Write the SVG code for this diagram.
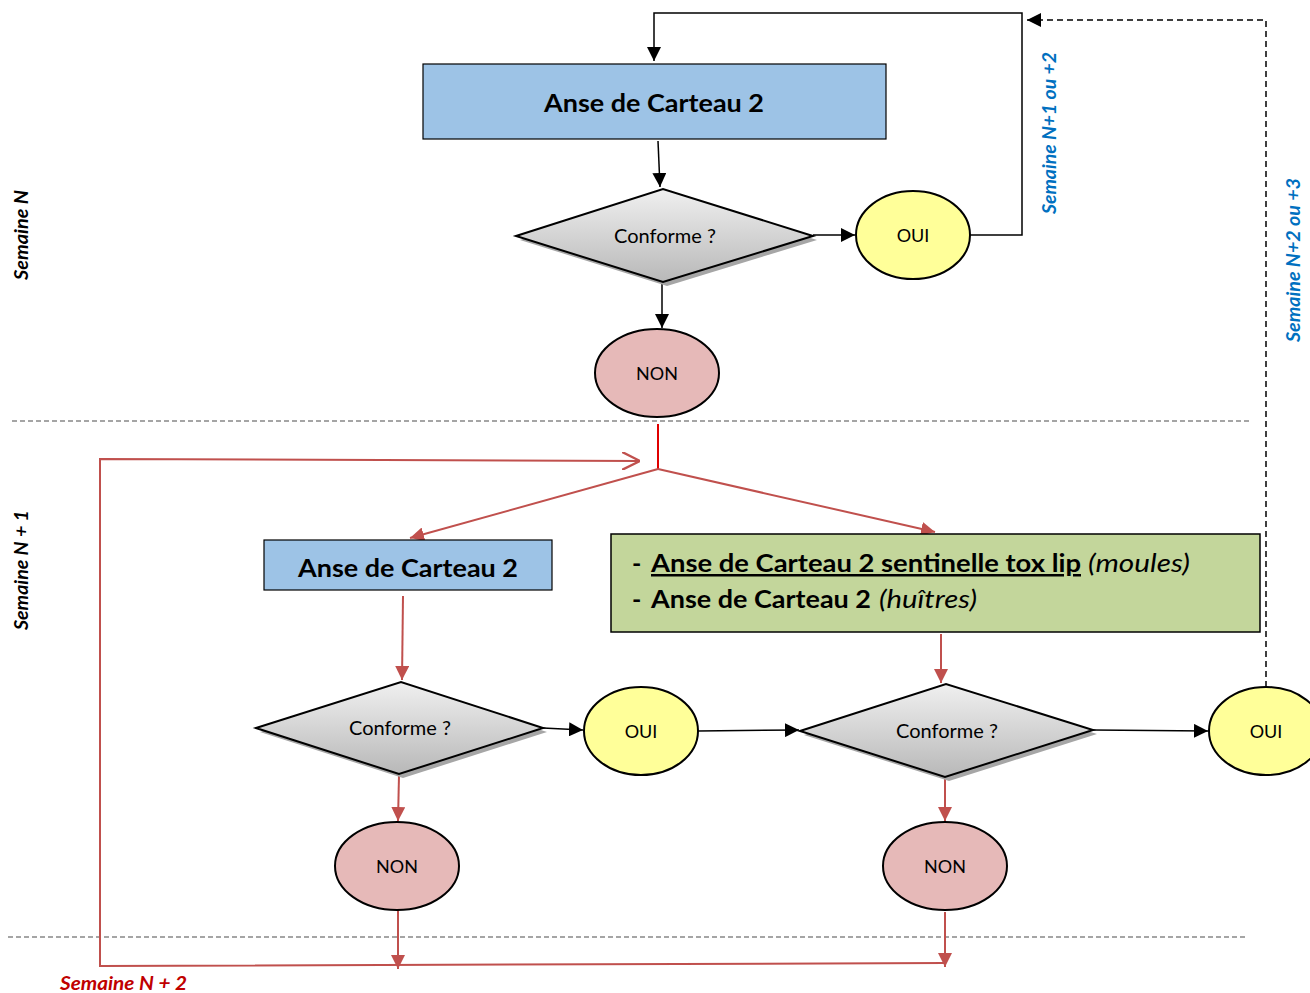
<svg xmlns="http://www.w3.org/2000/svg" width="1310" height="993" viewBox="0 0 1310 993">
<defs>
<linearGradient id="gd" x1="0" y1="0" x2="0" y2="1">
<stop offset="0" stop-color="#f0f0f0"/>
<stop offset="1" stop-color="#b8b8b8"/>
</linearGradient>
<marker id="arb" viewBox="0 0 10 10" refX="10" refY="5" markerWidth="14" markerHeight="14" orient="auto" markerUnits="userSpaceOnUse">
<path d="M0,0 L10,5 L0,10 z" fill="#000"/>
</marker>
<marker id="arr" viewBox="0 0 10 10" refX="10" refY="5" markerWidth="14" markerHeight="14" orient="auto" markerUnits="userSpaceOnUse">
<path d="M0,0 L10,5 L0,10 z" fill="#c0504d"/>
</marker>
<marker id="aro" viewBox="0 0 10 10" refX="10" refY="5" markerWidth="18" markerHeight="18" orient="auto" markerUnits="userSpaceOnUse">
<path d="M0,0 L10,5 L0,10" fill="none" stroke="#c0504d" stroke-width="1.3"/>
</marker>
</defs>
<style>
text{font-family:"Lato","Open Sans","Liberation Sans",sans-serif;}
.box{fill:#9dc3e6;stroke:#000;stroke-width:1.2;}
.green{fill:#c3d69b;stroke:#000;stroke-width:1.5;}
.dia{fill:url(#gd);stroke:#000;stroke-width:2;}
.sh{fill:#a6a6a6;}
.oui{fill:#ffff99;stroke:#000;stroke-width:2;}
.non{fill:#e6b9b8;stroke:#000;stroke-width:2;}
.bt{font-size:25px;font-weight:bold;fill:#000;}
.gt{font-size:25px;fill:#000;}
.lt{font-size:18px;fill:#000;text-anchor:middle;}
.ct{font-size:19px;fill:#000;}
.bk{stroke:#000;stroke-width:1.5;fill:none;}
.rd{stroke:#c0504d;stroke-width:2;fill:none;}
.sep{stroke:#888;stroke-width:1.5;stroke-dasharray:5,3;fill:none;}
.lbl{font-size:18px;font-style:italic;font-weight:bold;}
</style>
<g id="separators">
<line class="sep" x1="12" y1="421" x2="1250" y2="421"/>
<line class="sep" x1="8" y1="937" x2="1245" y2="937"/>
</g>
<g id="connectors">
<polyline class="bk" points="970,235 1022,235 1022,13 654,13 654,61" marker-end="url(#arb)"/>
<line class="bk" x1="658" y1="141" x2="660" y2="187" marker-end="url(#arb)"/>
<line class="bk" x1="813" y1="235" x2="855" y2="235" marker-end="url(#arb)"/>
<line class="bk" x1="662" y1="283" x2="662" y2="328" marker-end="url(#arb)"/>
<line x1="658" y1="424" x2="658" y2="469" stroke="#e00000" stroke-width="2"/>
<line class="rd" x1="658" y1="469" x2="410" y2="538" marker-end="url(#arr)"/>
<line class="rd" x1="658" y1="469" x2="935" y2="532" marker-end="url(#arr)"/>
<line class="rd" x1="403" y1="596" x2="402" y2="680" marker-end="url(#arr)"/>
<line class="rd" x1="941" y1="634" x2="941" y2="683" marker-end="url(#arr)"/>
<line class="bk" x1="543" y1="728" x2="583" y2="730" marker-end="url(#arb)"/>
<line class="bk" x1="698" y1="731" x2="799" y2="730" marker-end="url(#arb)"/>
<line class="bk" x1="1093" y1="730" x2="1208" y2="731" marker-end="url(#arb)"/>
<polyline points="1266,687 1266,20 1027,20" fill="none" stroke="#000" stroke-width="1.5" stroke-dasharray="6,4" marker-end="url(#arb)"/>
<line class="rd" x1="399" y1="775" x2="398" y2="821" marker-end="url(#arr)"/>
<line class="rd" x1="945" y1="778" x2="945" y2="821" marker-end="url(#arr)"/>
<line class="rd" x1="398" y1="910" x2="398" y2="969" marker-end="url(#arr)"/>
<line class="rd" x1="945" y1="912" x2="945" y2="967" marker-end="url(#arr)"/>
<polyline class="rd" points="945,963 100,966 100,459 640,461" marker-end="url(#aro)"/>
</g>
<g id="box1">
<rect class="box" x="423" y="64" width="463" height="75"/>
<text class="bt" x="544" y="112" textLength="220" lengthAdjust="spacingAndGlyphs">Anse de Carteau 2</text>
</g>
<g id="diamond1">
<polygon class="sh" points="520,240 667,193 817,240 667,286"/>
<polygon class="dia" points="516,236 663,189 813,236 663,282"/>
<text class="ct" x="614" y="243" textLength="102" lengthAdjust="spacingAndGlyphs">Conforme ?</text>
</g>
<g id="oui1">
<ellipse class="oui" cx="913" cy="235" rx="57" ry="44"/>
<text class="lt" x="913" y="242">OUI</text>
</g>
<g id="non1">
<ellipse class="non" cx="657" cy="373" rx="62" ry="44"/>
<text class="lt" x="657" y="380">NON</text>
</g>
<g id="box2">
<rect class="box" x="264" y="540" width="288" height="50"/>
<text class="bt" x="298" y="577" textLength="220" lengthAdjust="spacingAndGlyphs">Anse de Carteau 2</text>
</g>
<g id="box3">
<rect class="green" x="611" y="534" width="649" height="98"/>
<text class="bt" x="632" y="572">-</text>
<text class="bt" x="651" y="572" textLength="430" lengthAdjust="spacingAndGlyphs" text-decoration="underline">Anse de Carteau 2 sentinelle tox lip</text>
<text class="gt" x="1088" y="572" font-style="italic" textLength="102" lengthAdjust="spacingAndGlyphs">(moules)</text>
<text class="bt" x="632" y="608">-</text>
<text class="bt" x="651" y="608" textLength="220" lengthAdjust="spacingAndGlyphs">Anse de Carteau 2</text>
<text class="gt" x="879" y="608" font-style="italic" textLength="98" lengthAdjust="spacingAndGlyphs">(huîtres)</text>
</g>
<g id="diamond2">
<polygon class="sh" points="260,732 405,686 547,732 403,778"/>
<polygon class="dia" points="256,728 401,682 543,728 399,774"/>
<text class="ct" x="349" y="735" textLength="102" lengthAdjust="spacingAndGlyphs">Conforme ?</text>
</g>
<g id="oui2">
<ellipse class="oui" cx="641" cy="731" rx="57" ry="44"/>
<text class="lt" x="641" y="738">OUI</text>
</g>
<g id="diamond3">
<polygon class="sh" points="804,735 950,688 1097,734 949,781"/>
<polygon class="dia" points="800,731 946,684 1093,730 945,777"/>
<text class="ct" x="896" y="738" textLength="102" lengthAdjust="spacingAndGlyphs">Conforme ?</text>
</g>
<g id="oui3">
<ellipse class="oui" cx="1266" cy="731" rx="57" ry="44"/>
<text class="lt" x="1266" y="738">OUI</text>
</g>
<g id="non2">
<ellipse class="non" cx="397" cy="866" rx="62" ry="44"/>
<text class="lt" x="397" y="873">NON</text>
</g>
<g id="non3">
<ellipse class="non" cx="945" cy="866" rx="62" ry="44"/>
<text class="lt" x="945" y="873">NON</text>
</g>
<g id="labels">
<text class="lbl" transform="translate(28,280) rotate(-90)" fill="#000" textLength="90" lengthAdjust="spacingAndGlyphs">Semaine N</text>
<text class="lbl" transform="translate(28,630) rotate(-90)" fill="#000" textLength="120" lengthAdjust="spacingAndGlyphs">Semaine N + 1</text>
<text class="lbl" transform="translate(1056,214) rotate(-90)" fill="#0070c0" textLength="162" lengthAdjust="spacingAndGlyphs">Semaine N+1 ou +2</text>
<text class="lbl" transform="translate(1300,342) rotate(-90)" fill="#0070c0" textLength="164" lengthAdjust="spacingAndGlyphs">Semaine N+2 ou +3</text>
<text class="lbl" x="60" y="990" fill="#c00000" textLength="127" lengthAdjust="spacingAndGlyphs">Semaine N + 2</text>
</g>
</svg>
